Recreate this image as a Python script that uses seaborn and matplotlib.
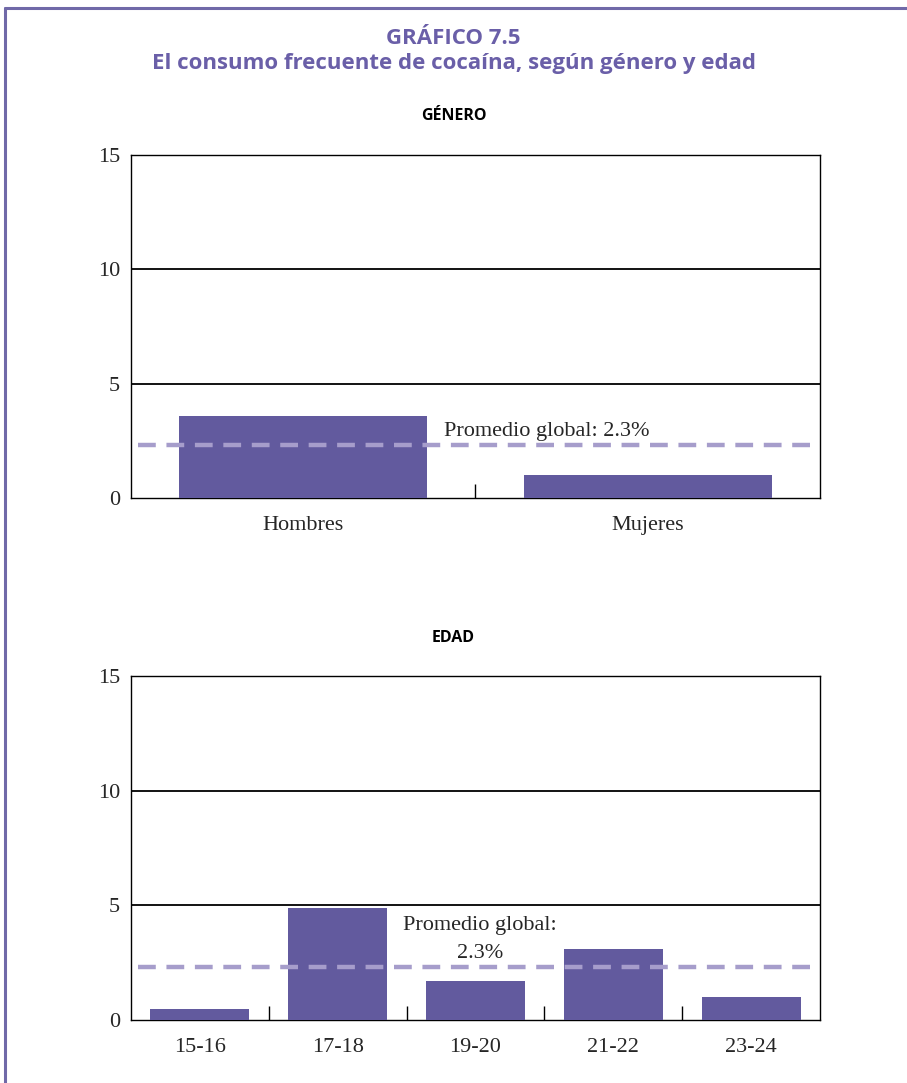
import matplotlib
matplotlib.use("Agg")
import matplotlib.pyplot as plt
import seaborn as sns
import pandas as pd
from matplotlib.lines import Line2D

# Data
gender_labels = ["Hombres", "Mujeres"]
gender_values = [3.6, 1.0]
age_labels = ["15-16", "17-18", "19-20", "21-22", "23-24"]
age_values = [0.5, 4.9, 1.7, 3.1, 1.0]
global_avg = 2.3
y_ticks = [0, 5, 10, 15]

title1 = "GRÁFICO 7.5"
title2 = "El consumo frecuente de cocaína, según género y edad"
panel1 = "GÉNERO"
panel2 = "EDAD"

sns.set_theme(style="white")
plt.rcParams["font.family"] = ["Liberation Serif", "DejaVu Serif"]

bar_color = "#625A9E"
avg_color = "#A69DCB"
title_color = "#6A5FA8"
fs = 16

fig = plt.figure(figsize=(9.07, 10.83), dpi=100)

def draw(ax, labels, values, text_x, text_lines, ha):
    df = pd.DataFrame({"cat": labels, "val": values})
    sns.barplot(data=df, x="cat", y="val", color=bar_color, width=0.72,
                saturation=1, ax=ax, zorder=3, edgecolor="none")
    ax.set_ylim(0, 15)
    ax.set_xlim(-0.5, len(labels) - 0.5)
    ax.set_yticks(y_ticks)
    ax.set_yticklabels([str(t) for t in y_ticks], fontsize=fs)
    ax.tick_params(axis="y", length=0, pad=8)
    ax.set_xticks(range(len(labels)))
    ax.set_xticklabels(labels, fontsize=fs)
    ax.tick_params(axis="x", which="major", length=0, pad=13)
    ax.set_xticks([i + 0.5 for i in range(len(labels) - 1)], minor=True)
    ax.tick_params(axis="x", which="minor", direction="in", length=10,
                   width=1, color="black", bottom=True)
    for t in [5, 10]:
        ax.axhline(t, color="black", lw=1.3, zorder=1)
    ax.axhline(global_avg, color=avg_color, lw=3.2, dashes=(4, 2.4), zorder=4,
               xmin=0.01)
    for spine in ax.spines.values():
        spine.set_color("black")
        spine.set_linewidth(1.0)
        spine.set_visible(True)
    ax.set_xlabel("")
    ax.set_ylabel("")
    ax.grid(False)
    for (y, s) in text_lines:
        ax.text(text_x, y, s, ha=ha, va="center", fontsize=fs, zorder=5)

ax1 = fig.add_axes([0.1444, 0.5402, 0.7597, 0.3167])
draw(ax1, gender_labels, gender_values, 0.41,
     [(2.9, f"Promedio global: {global_avg}%")], "left")

ax2 = fig.add_axes([0.1444, 0.0582, 0.7597, 0.3176])
draw(ax2, age_labels, age_values, 2.03,
     [(4.1, "Promedio global:"), (2.92, f"{global_avg}%")], "center")

sans = ["Open Sans", "DejaVu Sans"]
fig.text(0.5, 1 - 38 / 1083, title1, ha="center", va="center", fontsize=16,
         fontweight="bold", color=title_color, family=sans)
fig.text(0.5, 1 - 63 / 1083, title2, ha="center", va="center", fontsize=16,
         fontweight="bold", color=title_color, family=sans)
fig.text(0.5, 1 - 116 / 1083, panel1, ha="center", va="center", fontsize=11.5,
         fontweight="bold", color="black", family=sans)
fig.text(0.5, 1 - 638 / 1083, panel2, ha="center", va="center", fontsize=11.5,
         fontweight="bold", color="black", family=sans)

# Purple frame (top and left)
fig.add_artist(Line2D([5 / 907, 5 / 907], [0, 1 - 8 / 1083], color="#7069A8",
                      lw=2.2, transform=fig.transFigure))
fig.add_artist(Line2D([5 / 907, 1], [1 - 8 / 1083, 1 - 8 / 1083], color="#7069A8",
                      lw=2.2, transform=fig.transFigure))

fig.savefig("out.png", dpi=100, facecolor="white")
